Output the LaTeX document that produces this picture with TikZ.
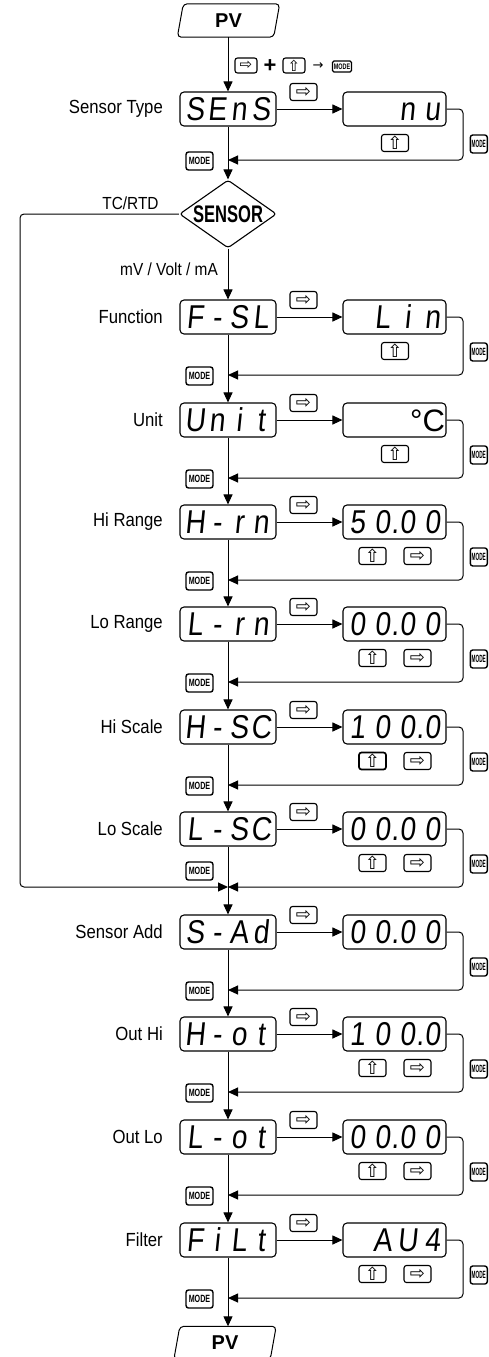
\documentclass[tikz,border=0pt]{standalone}
\usepackage{fontspec}
\usepackage{graphicx}
\setmainfont{Liberation Sans}
\newfontfamily\dvfont{DejaVu Sans}
\newfontfamily\segfont[FakeSlant=0.1,FakeStretch=0.85]{Liberation Sans}
\newfontfamily\lblfont[FakeStretch=0.88]{Liberation Sans}
\usetikzlibrary{shapes.geometric,arrows.meta}
\newcommand\dm[1]{\makebox[22pt][c]{#1}}
\newcommand\dv[1]{\makebox[25pt][c]{#1}}
\newcommand\dpt{\makebox[0pt][c]{.}}
\newcommand\modetxt{\scalebox{0.68}[1]{\bfseries\fontsize{10.5}{10.5}\selectfont MODE}}
\newcommand\narrowmodetxt{\scalebox{0.45}[1]{\bfseries\fontsize{10.5}{10.5}\selectfont MODE}}
\newcommand\smallmodetxt{\scalebox{0.68}[1]{\bfseries\fontsize{8}{8}\selectfont MODE}}
\tikzset{
  conn/.style={line width=1, -{Triangle[length=10pt,width=9pt]}},
  lbl/.style={anchor=east, inner sep=0, font=\lblfont\fontsize{19}{19}\selectfont},
  brlbl/.style={inner sep=0, font=\lblfont\fontsize{17.5}{17.5}\selectfont},
  mainbox/.style={draw, line width=1.1, rounded corners=4, minimum height=34,
    text width=90, inner xsep=3, inner ysep=0, align=center,
    text height=23.6, text depth=0, font=\segfont\fontsize{33}{33}\selectfont},
  valbox/.style={draw, line width=1.1, rounded corners=4, minimum height=34,
    text width=101, inner xsep=1, inner ysep=0, align=right,
    text height=23.6, text depth=0, font=\segfont\fontsize{33}{33}\selectfont},
  key/.style={draw, line width=1.1, rounded corners=2.5, minimum width=27,
    minimum height=17, inner sep=0, font=\dvfont\fontsize{18}{18}\selectfont},
  modekey/.style={draw, line width=1.4, rounded corners=2.5, minimum width=27,
    minimum height=18, inner sep=0},
  pvbox/.style={minimum width=96, minimum height=33, inner sep=0,
    font=\bfseries\fontsize{20}{20}\selectfont},
  pvline/.style={line width=1, rounded corners=4},
  loopline/.style={conn, rounded corners=4},
}
% #1 id, #2 y, #3 label, #4 display, #5 value, #6 keys, #7 return offset, #8 left MODE offset
\newcommand\mkrow[8]{%
  \node[mainbox] (m#1) at (228,#2) {#4};
  \node[lbl] (l#1) at (163,#2) {#3};
  \node[valbox] (v#1) at (394.5,#2) {#5};
  \draw[conn] (m#1) -- (v#1);
  \node[key] (ka#1) at (303.5,{#2-17}) {⇨};
  \node[modekey, minimum width=17] (kr#1) at (478.8,{#2+35}) {\narrowmodetxt};
  \coordinate (ca#1) at (463,#2);
  \coordinate (cb#1) at (463,{#2+#7});
  \coordinate (r#1) at (228,{#2+#7});
  \draw[loopline] (v#1.east) -- (ca#1) -- (cb#1) -- (r#1);
  \node[modekey] (kl#1) at (199.5,{#2+#7+1+#8}) {\modetxt};
  \ifcase#6 \or
    \node[key] (ku#1) at (395,{#2+34}) {⇧};
  \or
    \node[key] (ku#1) at (372.5,{#2+34}) {⇧};
    \node[key] (kx#1) at (417.5,{#2+34}) {⇨};
  \or
    \node[key, line width=1.7] (ku#1) at (372.5,{#2+34}) {⇧};
    \node[key] (kx#1) at (417.5,{#2+34}) {⇨};
  \fi
}
\begin{document}
\begin{tikzpicture}[x=1pt,y=-1pt]
\useasboundingbox (0,0) rectangle (488,1357);
\clip (0,0) rectangle (488,1357);
% top PV
\node[pvbox] (pvtop) at (228.5,20.5) {PV};
\draw[pvline] ([xshift=-3pt]pvtop.south west) -- ([xshift=3pt]pvtop.north west)
  -- ([xshift=3pt]pvtop.north east) -- ([xshift=-3pt]pvtop.south east) -- cycle;
% key combination
\node[key, minimum width=22, minimum height=15, font=\dvfont\fontsize{15}{15}\selectfont] (tk1) at (246,65.5) {⇨};
\node[inner sep=0, font=\bfseries\fontsize{22}{22}\selectfont] (tplus) at (270,66) {+};
\node[key, minimum width=22, minimum height=15, font=\dvfont\fontsize{15}{15}\selectfont] (tk2) at (294,65.5) {⇧};
\node[inner sep=0, font=\dvfont\fontsize{13}{13}\selectfont] (tarrow) at (318,66) {→};
\node[modekey, line width=1.1, minimum width=19, minimum height=11, rounded corners=1.5] (tk3) at (342,66.5) {\smallmodetxt};
% rows
\mkrow{1}{109}{Sensor Type}{\dm{S}\dm{E}\dm{n}\dm{S}}{\dv{n}\dv{u}}{1}{51}{0}
\mkrow{2}{317}{Function}{\dm{F}\dm{-}\dm{S}\dm{L}}{\dv{L}\dv{i}\dv{n}}{1}{58}{0}
\mkrow{3}{420}{Unit}{\dm{U}\dm{n}\dm{i}\dm{t}}{{\rmfamily\fontsize{31}{31}\selectfont °C\hspace{5pt}}}{1}{58}{0}
\mkrow{4}{522}{Hi Range}{\dm{H}\dm{-}\dm{r}\dm{n}}{\dv{5}\dv{0}\dpt\dv{0}\dv{0}}{2}{58}{0}
\mkrow{5}{624}{Lo Range}{\dm{L}\dm{-}\dm{r}\dm{n}}{\dv{0}\dv{0}\dpt\dv{0}\dv{0}}{2}{58}{0}
\mkrow{6}{727}{Hi Scale}{\dm{H}\dm{-}\dm{S}\dm{C}}{\dv{1}\dv{0}\dv{0}\dpt\dv{0}}{3}{58}{0}
\mkrow{7}{829}{Lo Scale}{\dm{L}\dm{-}\dm{S}\dm{C}}{\dv{0}\dv{0}\dpt\dv{0}\dv{0}}{2}{58}{-17}
\mkrow{8}{932}{Sensor Add}{\dm{S}\dm{-}\dm{A}\dm{d}}{\dv{0}\dv{0}\dpt\dv{0}\dv{0}}{0}{58}{0}
\mkrow{9}{1034}{Out Hi}{\dm{H}\dm{-}\dm{o}\dm{t}}{\dv{1}\dv{0}\dv{0}\dpt\dv{0}}{2}{58}{0}
\mkrow{10}{1137}{Out Lo}{\dm{L}\dm{-}\dm{o}\dm{t}}{\dv{0}\dv{0}\dpt\dv{0}\dv{0}}{2}{58}{0}
\mkrow{11}{1240}{Filter}{\dm{F}\dm{i}\dm{L}\dm{t}}{\dv{A}\dv{U}\dv{4}}{2}{58}{0}
% sensor decision
\node[draw, diamond, aspect=1.43, minimum width=97, minimum height=68, inner sep=0,
  line width=1.1, rounded corners=3] (sensor) at (228,214)
  {\scalebox{0.69}[1]{\bfseries\fontsize{24}{24}\selectfont SENSOR}};
\node[brlbl] (tcrtd) at (130.5,203.5) {TC/RTD};
\node[brlbl, anchor=east] (mva) at (218,269.5) {mV / Volt / mA};
% bottom PV
\node[pvbox] (pvbot) at (225,1343) {PV};
\draw[pvline] ([xshift=-3pt]pvbot.south west) -- ([xshift=3pt]pvbot.north west)
  -- ([xshift=3pt]pvbot.north east) -- ([xshift=-3pt]pvbot.south east) -- cycle;
% main flow
\draw[conn] (pvtop.south -| m1.north) -- (m1.north);
\draw[conn] (m1.south) -- (sensor.north);
\draw[conn] (sensor.south) -- (m2.north);
\foreach \a/\b in {2/3,3/4,4/5,5/6,6/7,7/8,8/9,9/10,10/11}
  \draw[conn] (m\a.south) -- (m\b.north);
\draw[conn] (m11.south) -- (pvbot.north -| m11.south);
% TC/RTD bypass
\coordinate (bp1) at (20,214);
\coordinate (bp2) at (20,887);
\draw[loopline] (sensor.west) -- (bp1) -- (bp2) -- (r7);
\end{tikzpicture}
\end{document}
